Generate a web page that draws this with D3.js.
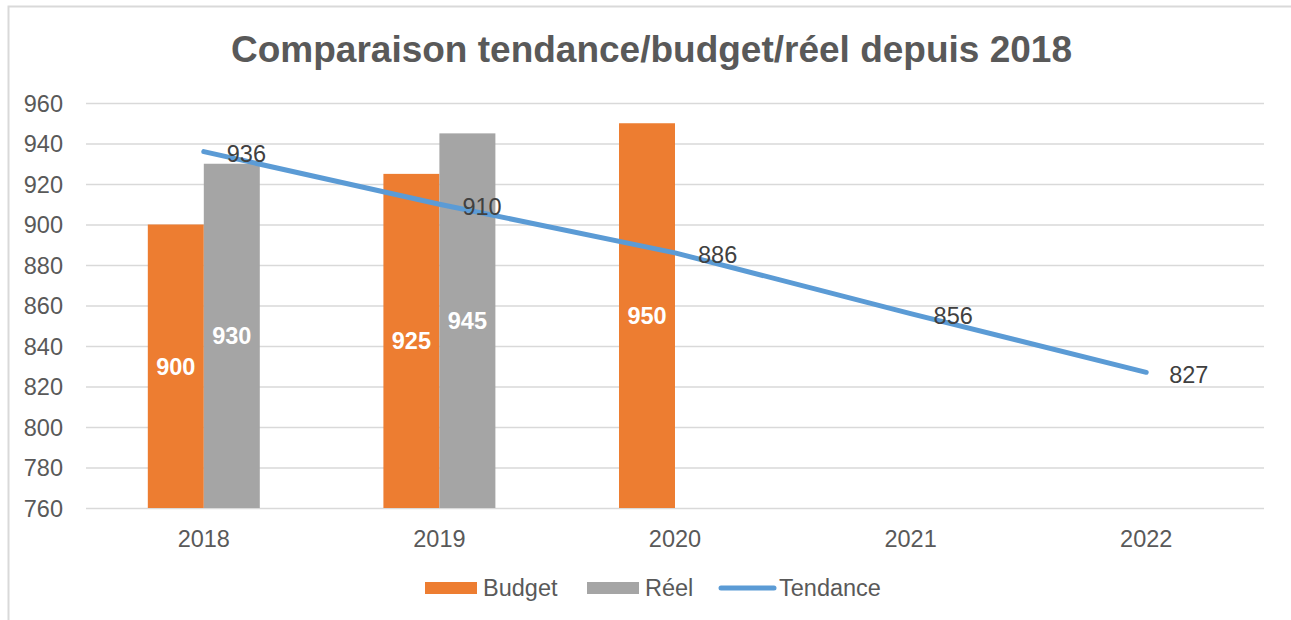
<!DOCTYPE html>
<html>
<head>
<meta charset="utf-8">
<script src="https://cdn.jsdelivr.net/npm/d3@7"></script>
<style>
  body { margin: 0; background: #fff; }
  svg { font-family: Arial, "Liberation Sans", sans-serif; }
</style>
</head>
<body>
<div id="center"></div>
<script>
const years = ["2018", "2019", "2020", "2021", "2022"];
const budget = [900, 925, 950, null, null];
const reel = [930, 945, null, null, null];
const tendance = [936, 910, 886, 856, 827];
const yTicks = [760, 780, 800, 820, 840, 860, 880, 900, 920, 940, 960];
const series = ["Budget", "Réel"];

let width = 1291;
let height = 620;
const svg = d3.select("#center").append("svg")
    .attr("width", width)
    .attr("height", height)

let color = {
    "Budget": "#ED7D31",
    "Réel": "#A5A5A5",
    "Tendance": "#5B9BD5"
}
const textColor = "#595959";
const fs = 23.5;

// cadre
svg.append("rect")
    .attr("x", 8.5).attr("y", 6.5)
    .attr("width", 1400).attr("height", 800)
    .attr("fill", "none")
    .attr("stroke", "#D9D9D9")
    .attr("stroke-width", 2)

svg.append("text")
    .attr("x", 651.5).attr("y", 62)
    .attr("text-anchor", "middle")
    .attr("font-size", 37)
    .attr("font-weight", "bold")
    .attr("fill", textColor)
    .text("Comparaison tendance/budget/réel depuis 2018")

let x = d3.scaleBand().domain(years).range([86, 1264]).padding(0);
let xs = d3.scaleBand().domain(series).range([0, x.bandwidth()]).paddingInner(0).paddingOuter(1.104);
let y = d3.scaleLinear().domain([760, 960]).range([508, 103]);

// grille
let axisY = d3.axisLeft(y).tickValues(yTicks).tickSize(-(1264 - 86)).tickPadding(23);
let gy = svg.append("g")
    .attr("transform", "translate(86,0)")
    .call(axisY)
gy.select(".domain").remove();
gy.selectAll(".tick line").attr("stroke", "#D9D9D9").attr("stroke-width", 1.5);
gy.selectAll(".tick text")
    .attr("font-size", fs)
    .attr("fill", textColor)
    .attr("font-family", "Arial, 'Liberation Sans', sans-serif")
    .attr("dy", "0.36em")

let axisX = d3.axisBottom(x).tickSize(0).tickPadding(22);
let gx = svg.append("g")
    .attr("transform", "translate(0,508)")
    .call(axisX)
gx.select(".domain").remove();
gx.selectAll(".tick text")
    .attr("font-size", fs)
    .attr("fill", textColor)
    .attr("font-family", "Arial, 'Liberation Sans', sans-serif")

// barres
let barData = [];
years.forEach(function (yr, i) {
    if (budget[i] != null) barData.push({ year: yr, s: "Budget", v: budget[i] });
    if (reel[i] != null) barData.push({ year: yr, s: "Réel", v: reel[i] });
});

svg.selectAll("rect.bar")
    .data(barData)
    .enter()
    .append("rect")
    .attr("class", "bar")
    .attr("x", function (d) { return x(d.year) + xs(d.s); })
    .attr("y", function (d) { return y(d.v); })
    .attr("width", xs.bandwidth())
    .attr("height", function (d) { return y(760) - y(d.v); })
    .attr("fill", function (d) { return color[d.s]; })

svg.selectAll("text.barlabel")
    .data(barData)
    .enter()
    .append("text")
    .attr("class", "barlabel")
    .attr("x", function (d) { return x(d.year) + xs(d.s) + xs.bandwidth() / 2; })
    .attr("y", function (d) { return (y(d.v) + y(760)) / 2; })
    .attr("dy", "0.36em")
    .attr("text-anchor", "middle")
    .attr("font-size", fs)
    .attr("font-weight", "bold")
    .attr("fill", "#fff")
    .text(function (d) { return d.v; })

// tendance
let lineData = years.map(function (yr, i) { return { year: yr, v: tendance[i] }; });
let line = d3.line()
    .x(function (d) { return x(d.year) + x.bandwidth() / 2; })
    .y(function (d) { return y(d.v); });
svg.append("path")
    .datum(lineData)
    .attr("d", line)
    .attr("fill", "none")
    .attr("stroke", color["Tendance"])
    .attr("stroke-width", 5)
    .attr("stroke-linecap", "round")
    .attr("stroke-linejoin", "round")

svg.selectAll("text.linelabel")
    .data(lineData)
    .enter()
    .append("text")
    .attr("class", "linelabel")
    .attr("x", function (d) { return x(d.year) + x.bandwidth() / 2 + 23; })
    .attr("y", function (d) { return y(d.v) + 2; })
    .attr("dy", "0.36em")
    .attr("font-size", fs)
    .attr("fill", "#404040")
    .text(function (d) { return d.v; })

// légende
let lg = svg.append("g").attr("font-size", fs).attr("fill", textColor);
lg.append("rect").attr("x", 425).attr("y", 582).attr("width", 52).attr("height", 12).attr("fill", color["Budget"]);
lg.append("text").attr("x", 483).attr("y", 596).text("Budget");
lg.append("rect").attr("x", 587).attr("y", 582).attr("width", 52).attr("height", 12).attr("fill", color["Réel"]);
lg.append("text").attr("x", 645).attr("y", 596).text("Réel");
lg.append("line").attr("x1", 721).attr("x2", 774).attr("y1", 588).attr("y2", 588)
    .attr("stroke", color["Tendance"]).attr("stroke-width", 5).attr("stroke-linecap", "round");
lg.append("text").attr("x", 779).attr("y", 596).text("Tendance");
</script>
</body>
</html>
